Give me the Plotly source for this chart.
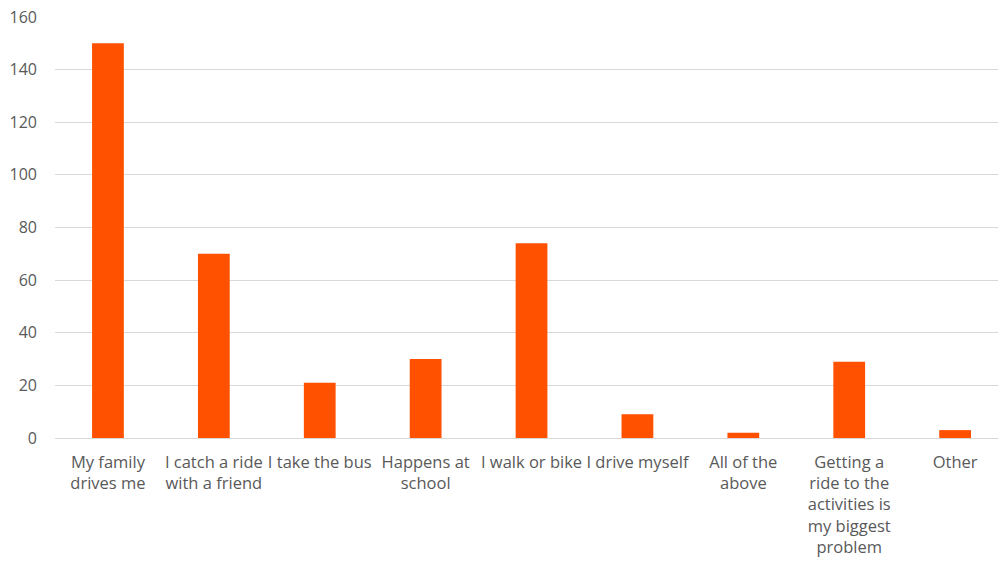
import plotly.graph_objects as go

categories = [
    "My family<br>drives me",
    "I catch a ride<br>with a friend",
    "I take the bus",
    "Happens at<br>school",
    "I walk or bike",
    "I drive myself",
    "All of the<br>above",
    "Getting a<br>ride to the<br>activities is<br>my biggest<br>problem",
    "Other",
]
values = [150, 70, 21, 30, 74, 9, 2, 29, 3]
y_ticks = [0, 20, 40, 60, 80, 100, 120, 140, 160]

fig = go.Figure(
    go.Bar(
        x=list(range(len(categories))),
        y=values,
        marker=dict(color="#FF5100", line=dict(width=0)),
        width=0.30,
    )
)

fig.update_layout(
    width=998,
    height=566,
    margin=dict(l=55, r=0, t=17, b=128),
    paper_bgcolor="white",
    plot_bgcolor="white",
    font=dict(family="Open Sans, Liberation Sans, sans-serif", size=16, color="#595959"),
    showlegend=False,
)
fig.update_xaxes(
    range=[-0.5, 8.405],
    tickvals=list(range(len(categories))),
    ticktext=categories,
    showgrid=False,
    showline=False,
    zeroline=False,
    ticks="",
    tickangle=0,
    ticklabelstandoff=12,
    tickfont=dict(size=16.5, color="#595959"),
)
fig.update_yaxes(
    range=[0, 160],
    tickvals=y_ticks,
    showgrid=True,
    gridcolor="#D9D9D9",
    gridwidth=1,
    zeroline=True,
    zerolinecolor="#D9D9D9",
    zerolinewidth=1,
    showline=False,
    ticks="",
    ticklabelstandoff=17,
    tickfont=dict(size=16, color="#595959"),
)

fig.write_html("out.html")
